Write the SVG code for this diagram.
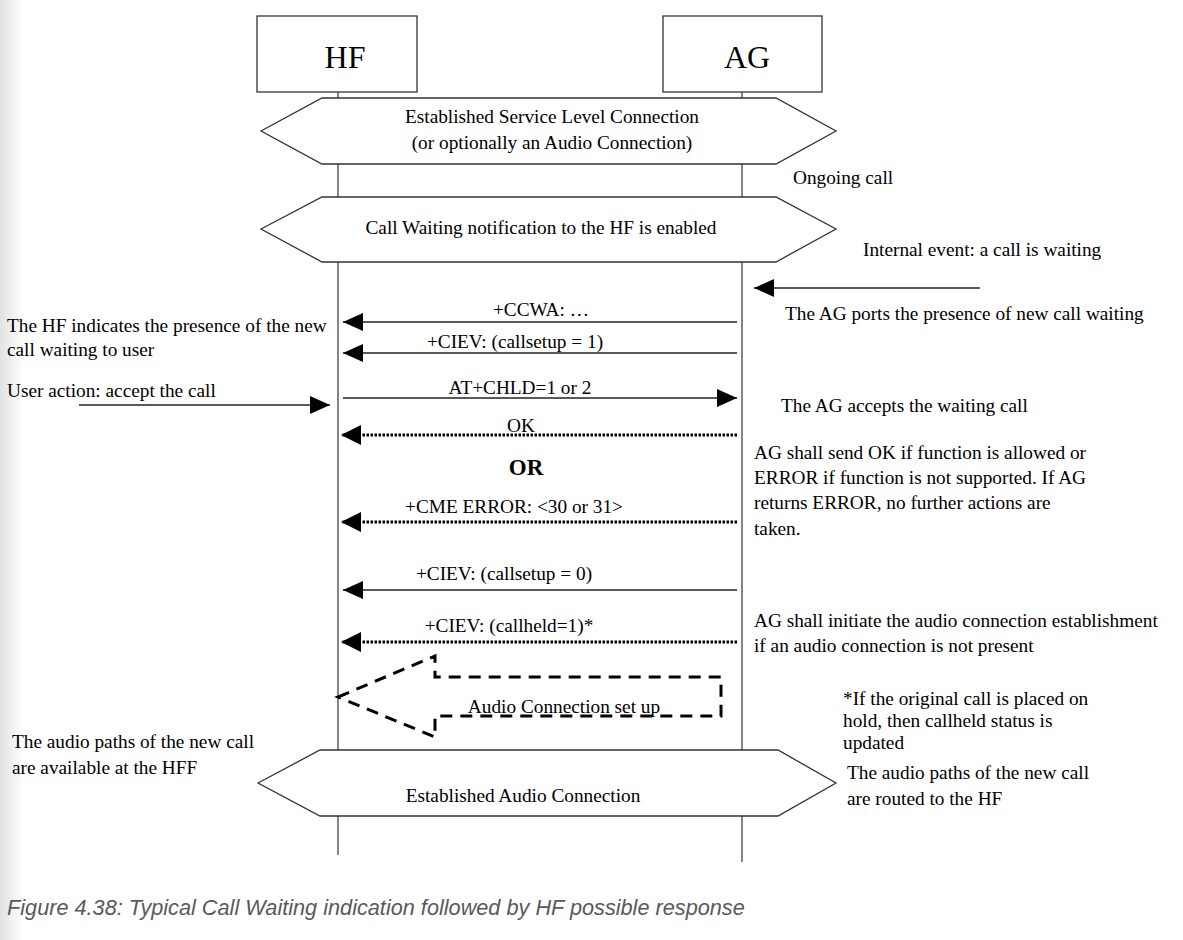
<svg xmlns="http://www.w3.org/2000/svg" width="1183" height="940" viewBox="0 0 1183 940">
<defs>
<linearGradient id="edge" x1="0" y1="0" x2="1" y2="0">
<stop offset="0" stop-color="#e2e2e2"/>
<stop offset="1" stop-color="#ffffff"/>
</linearGradient>
<marker id="ah" markerUnits="userSpaceOnUse" markerWidth="20" markerHeight="18" refX="20" refY="9" orient="auto">
<path d="M0,0 L20,9 L0,18 Z" fill="#000"/>
</marker>
<marker id="ahd" markerUnits="userSpaceOnUse" markerWidth="20" markerHeight="20" refX="20" refY="10" orient="auto">
<path d="M0,0 L20,10 L0,20 Z" fill="#000"/>
</marker>
</defs>
<style>
.t{font-family:"Liberation Serif","Times New Roman",serif;font-size:19.3px;fill:#000}
.c{text-anchor:middle}
.big{font-size:32px}
.box{fill:#fff;stroke:#333;stroke-width:1.3}
.life{stroke:#444;stroke-width:1.3;fill:none}
.msg{stroke:#222;stroke-width:1.4;fill:none}
.dot{stroke:#000;stroke-width:3;stroke-dasharray:2.5 1.5;fill:none}
.cap{font-family:"Liberation Sans",Arial,sans-serif;font-style:italic;font-size:21.7px;fill:#595959}
</style>
<rect width="1183" height="940" fill="#fff"/>
<rect width="24" height="940" fill="url(#edge)"/>

<g id="lifelines">
<line class="life" x1="338" y1="92" x2="338" y2="855"/>
<line class="life" x1="742" y1="92" x2="742" y2="862"/>
</g>

<g id="hf">
<rect class="box" x="257" y="16" width="160" height="76"/>
<text class="t c big" x="345" y="68">HF</text>
</g>
<g id="ag">
<rect class="box" x="663" y="16" width="159" height="76"/>
<text class="t c big" x="747" y="68">AG</text>
</g>

<g id="slc">
<polygon class="box" points="261,131 322,98 776,98 836,131 776,164 322,164"/>
<text class="t c" x="552" y="123">Established Service Level Connection</text>
<text class="t c" x="552" y="149">(or optionally an Audio Connection)</text>
</g>

<g id="cwn">
<polygon class="box" points="261,229 322,197 776,197 836,229 776,262 322,262"/>
<text class="t c" x="541" y="234">Call Waiting notification to the HF is enabled</text>
</g>

<g id="eac">
<polygon class="box" points="258,783 320,750 778,750 836,783 778,816 320,816"/>
<text class="t c" x="523" y="802">Established Audio Connection</text>
</g>

<g id="acsetup">
<polygon fill="none" stroke="#000" stroke-width="3" stroke-dasharray="12 8" points="338,697 435,656 435,677 721,677 721,716 435,716 435,737"/>
<text class="t c" x="564" y="713">Audio Connection set up</text>
</g>

<g id="connectors">
<line class="msg" x1="980" y1="288" x2="754" y2="288" marker-end="url(#ah)"/>
<line class="msg" x1="737" y1="322" x2="343" y2="322" marker-end="url(#ah)"/>
<line class="msg" x1="737" y1="353" x2="343" y2="353" marker-end="url(#ah)"/>
<line class="msg" x1="79" y1="405" x2="330" y2="405" marker-end="url(#ah)"/>
<line class="msg" x1="343" y1="398" x2="737" y2="398" marker-end="url(#ah)"/>
<line class="dot" x1="737" y1="435" x2="341" y2="435" marker-end="url(#ahd)"/>
<line class="dot" x1="737" y1="522" x2="341" y2="522" marker-end="url(#ahd)"/>
<line class="msg" x1="737" y1="590" x2="343" y2="590" marker-end="url(#ah)"/>
<line class="dot" x1="737" y1="642" x2="341" y2="642" marker-end="url(#ahd)"/>
</g>

<g id="labels">
<text class="t c" x="541" y="316">+CCWA: …</text>
<text class="t c" x="515" y="348">+CIEV: (callsetup = 1)</text>
<text class="t c" x="520" y="394">AT+CHLD=1 or 2</text>
<text class="t c" x="521" y="432">OK</text>
<text class="t c" x="526" y="475" style="font-weight:bold;font-size:23px">OR</text>
<text class="t c" x="514" y="513">+CME ERROR: &lt;30 or 31&gt;</text>
<text class="t c" x="504" y="580">+CIEV: (callsetup = 0)</text>
<text class="t c" x="509" y="632">+CIEV: (callheld=1)*</text>
</g>

<g id="notes">
<text class="t" x="793" y="184">Ongoing call</text>
<text class="t" x="863" y="256">Internal event: a call is waiting</text>
<text class="t" x="785" y="320">The AG ports the presence of new call waiting</text>
<text class="t" x="7" y="332">The HF indicates the presence of the new</text>
<text class="t" x="7" y="356">call waiting to user</text>
<text class="t" x="7" y="397">User action: accept the call</text>
<text class="t" x="781" y="412">The AG accepts the waiting call</text>
<text class="t" x="754" y="459">AG shall send OK if function is allowed or</text>
<text class="t" x="754" y="484">ERROR if function is not supported. If AG</text>
<text class="t" x="754" y="509">returns ERROR, no further actions are</text>
<text class="t" x="754" y="535">taken.</text>
<text class="t" x="754" y="627">AG shall initiate the audio connection establishment</text>
<text class="t" x="754" y="652">if an audio connection is not present</text>
<text class="t" x="843" y="705">*If the original call is placed on</text>
<text class="t" x="843" y="727">hold, then callheld status is</text>
<text class="t" x="843" y="749">updated</text>
<text class="t" x="12" y="748">The audio paths of the new call</text>
<text class="t" x="12" y="774">are available at the HFF</text>
<text class="t" x="847" y="779">The audio paths of the new call</text>
<text class="t" x="847" y="805">are routed to the HF</text>
</g>

<text class="cap" x="7" y="915">Figure 4.38: Typical Call Waiting indication followed by HF possible response</text>
</svg>
